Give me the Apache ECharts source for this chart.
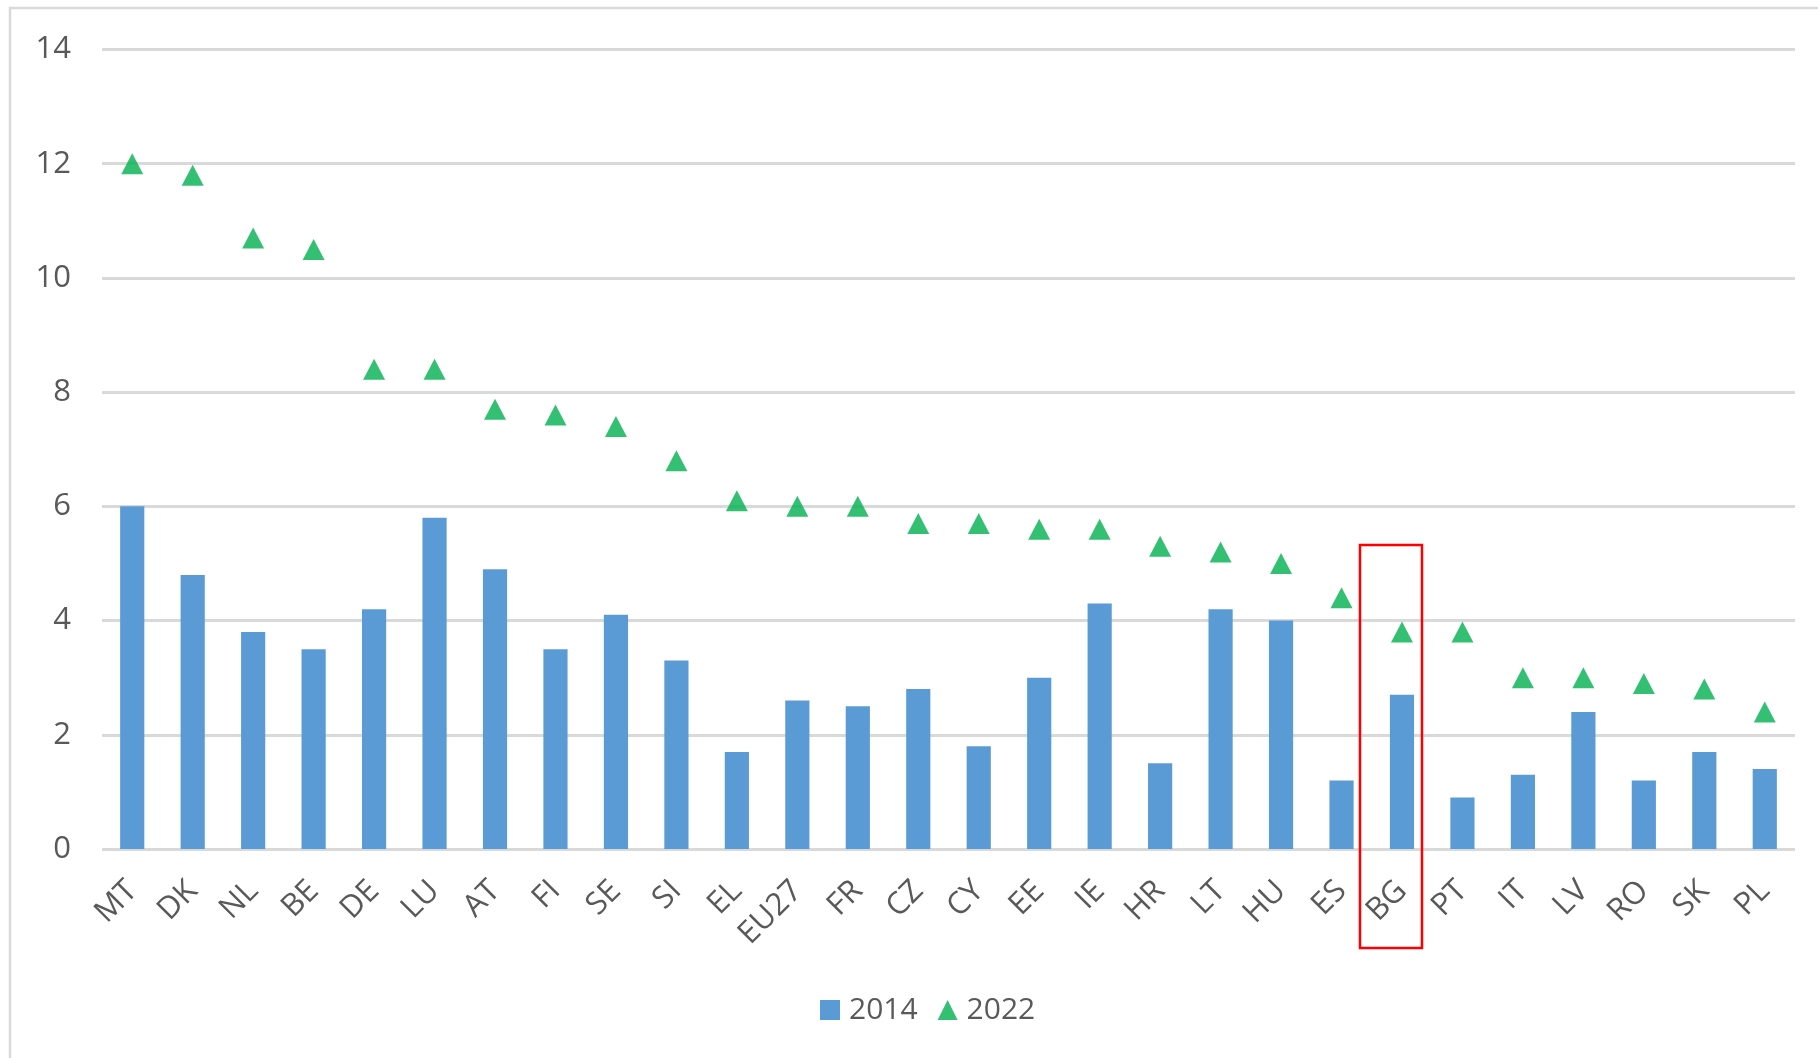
<!DOCTYPE html>
<html>
<head>
<meta charset="utf-8">
<script src="https://cdn.jsdelivr.net/npm/echarts@6/dist/echarts.min.js"></script>
<style>
  html, body { margin: 0; padding: 0; background: #fff; }
  #chart { width: 1818px; height: 1058px; }
</style>
</head>
<body>
<div id="chart"></div>
<script>
const countries = ['MT', 'DK', 'NL', 'BE', 'DE', 'LU', 'AT', 'FI', 'SE', 'SI', 'EL', 'EU27', 'FR', 'CZ',
  'CY', 'EE', 'IE', 'HR', 'LT', 'HU', 'ES', 'BG', 'PT', 'IT', 'LV', 'RO', 'SK', 'PL']
const values2014 = [6.0, 4.8, 3.8, 3.5, 4.2, 5.8, 4.9, 3.5, 4.1, 3.3, 1.7, 2.6, 2.5, 2.8,
  1.8, 3.0, 4.3, 1.5, 4.2, 4.0, 1.2, 2.7, 0.9, 1.3, 2.4, 1.2, 1.7, 1.4]
const values2022 = [12.0, 11.8, 10.7, 10.5, 8.4, 8.4, 7.7, 7.6, 7.4, 6.8, 6.1, 6.0, 6.0, 5.7,
  5.7, 5.6, 5.6, 5.3, 5.2, 5.0, 4.4, 3.8, 3.8, 3.0, 3.0, 2.9, 2.8, 2.4]
const yTicks = { min: 0, max: 14, interval: 2 }
const highlighted = 'BG'

const font = '"Open Sans", "Noto Sans", sans-serif'
const textGrey = '#595959'

const chart = echarts.init(document.getElementById('chart'))

const option = {
  backgroundColor: '#fff',
  animation: false,
  grid: {
    left: 102,
    right: 23,
    top: 49.5,
    bottom: 209,
    containLabel: false
  },
  legend: {
    left: 820,
    top: 995,
    padding: 0,
    itemWidth: 20,
    itemHeight: 20,
    itemGap: 20,
    textStyle: { color: textGrey, fontSize: 30, fontFamily: font, padding: [0, 0, 0, 4] },
    data: [
      { name: '2014', icon: 'rect' },
      { name: '2022', icon: 'triangle' }
    ]
  },
  xAxis: {
    type: 'category',
    data: countries,
    axisLine: { show: false },
    axisTick: { show: false },
    axisLabel: {
      interval: 0,
      rotate: 45,
      margin: 37,
      color: textGrey,
      fontSize: 31,
      fontFamily: font
    }
  },
  yAxis: {
    type: 'value',
    min: yTicks.min,
    max: yTicks.max,
    interval: yTicks.interval,
    axisLine: { show: false },
    axisTick: { show: false },
    axisLabel: {
      margin: 31,
      color: textGrey,
      fontSize: 31,
      fontFamily: font
    },
    splitLine: { lineStyle: { color: '#d9d9d9', width: 3 } }
  },
  series: [
    {
      name: '2014',
      type: 'bar',
      data: values2014,
      barWidth: '40%',
      itemStyle: { color: '#5b9bd5' }
    },
    {
      name: '2022',
      type: 'scatter',
      data: values2022,
      symbol: 'triangle',
      symbolSize: [22, 21],
      itemStyle: { color: '#00b050' }
    }
  ]
}

chart.setOption(option)

// outer frame + red box round the highlighted country
const cx = chart.convertToPixel({ xAxisIndex: 0 }, highlighted)
chart.setOption({
  graphic: [
    {
      type: 'rect',
      silent: true,
      shape: { x: 10, y: 8, width: 1840, height: 1100 },
      style: { fill: null, stroke: '#d9d9d9', lineWidth: 2.5 }
    },
    {
      type: 'rect',
      silent: true,
      z: 100,
      shape: { x: cx - 42, y: 545, width: 62, height: 403 },
      style: { fill: null, stroke: '#ff0000', lineWidth: 2.5 }
    }
  ]
})
</script>
</body>
</html>
